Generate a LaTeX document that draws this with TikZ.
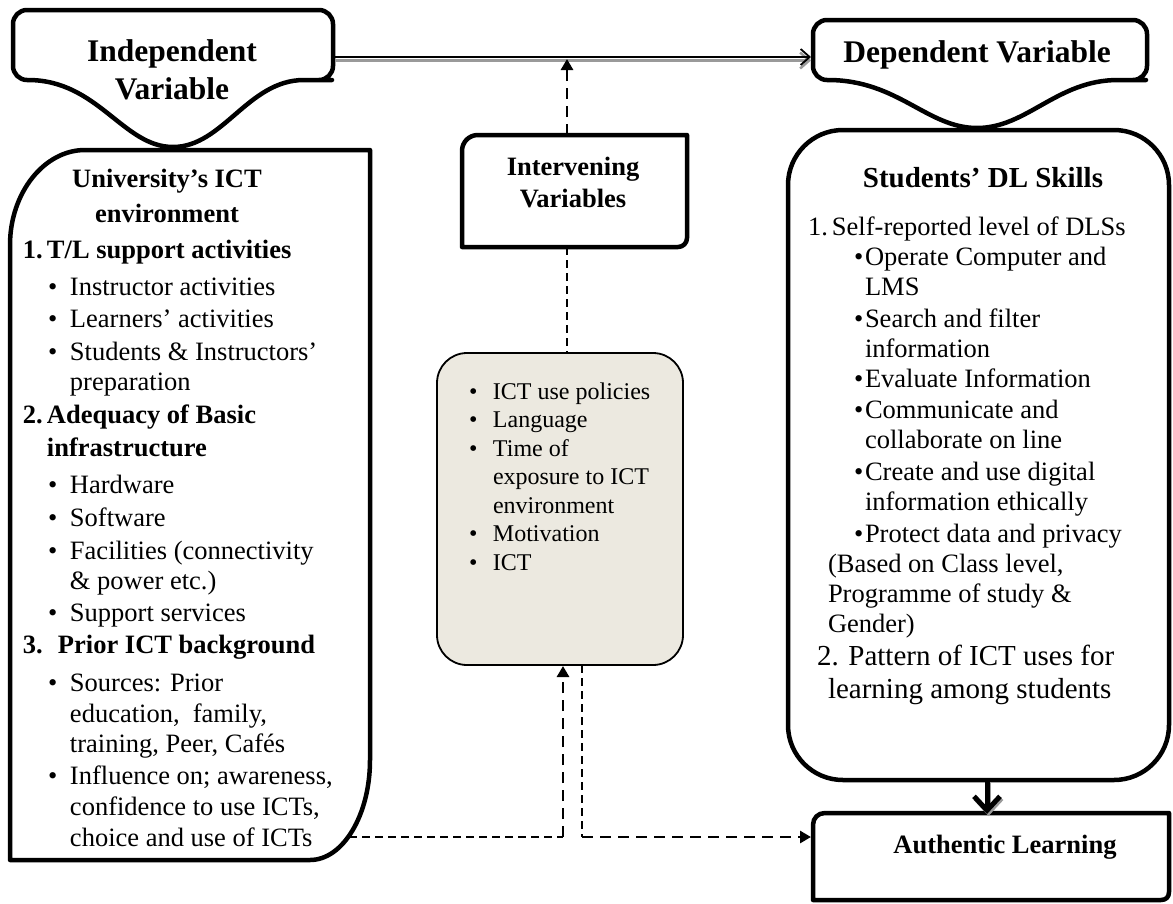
\documentclass[tikz,border=0pt]{standalone}
\usepackage{fontspec}
\setmainfont{Liberation Serif}
\usetikzlibrary{arrows.meta}

\definecolor{ceceae0}{RGB}{236,233,224}
\definecolor{c9a9a9a}{RGB}{154,154,154}

\newcommand{\numbox}[1]{\makebox[24pt][l]{#1}}
\newcommand{\bul}{\hspace*{25pt}\makebox[22pt][l]{\textbullet}}
\newcommand{\pbul}{\makebox[24pt][l]{\textbullet}}
\newcommand{\sbul}{\hspace*{46pt}\makebox[11pt][l]{\textbullet}}

\begin{document}
\begin{tikzpicture}[x=1pt, y=-1pt, inner sep=0pt, outer sep=0pt,
  boxline/.style={draw=black, line width=4.5pt, line join=round},
  bodytext/.style={align=left, font=\fontsize{26.5}{30}\selectfont},
  headtext/.style={align=center, font=\bfseries\fontsize{26.5}{32}\selectfont},
  thindash/.style={line width=1.8pt, dash pattern=on 8pt off 5pt},
  thickdash/.style={line width=2.8pt, dash pattern=on 11pt off 7pt},
  tri/.style={-{Triangle[length=11pt,width=12pt]}}]
  \useasboundingbox[fill=white] (0,0) rectangle (1173,903);

  % banners
  \path[boxline, fill=white, rounded corners=14pt] (28,80) -- (13,80) -- (13,10) -- (333,10) -- (333,80) -- (318,80)
    [sharp corners] .. controls (248,80) and (223,147) .. (173,147) .. controls (123,147) and (98,80) .. (28,80) -- cycle;
  \path[boxline, fill=white, rounded corners=14pt] (828,80) -- (813,80) -- (813,20) -- (1147,20) -- (1147,80) -- (1132,80)
    [sharp corners] .. controls (1057,80) and (1027,128) .. (977,128) .. controls (927,128) and (898,80) .. (828,80) -- cycle;

  % boxes
  \path[boxline] (85,150) -- (370,150) -- (370,760) .. controls (370,815) and (343,860) .. (310,860)
    -- (10,860) -- (10,245) .. controls (10,193) and (44,150) .. (85,150) -- cycle;
  \path[boxline] (462,247) -- (462,151) .. controls (462,142) and (469,135) .. (478,135) -- (687,135)
    -- (687,238) .. controls (687,243) and (683,247) .. (678,247) -- cycle;
  \path[draw=black, fill=ceceae0, line width=1.8pt, rounded corners=30pt] (437,353) rectangle (683,665);
  \path[boxline, rounded corners=55pt] (788,130) rectangle (1169,780);
  \path[boxline] (813,900) -- (813,825) .. controls (813,818) and (818,813) .. (825,813) -- (1169,813)
    -- (1169,892) .. controls (1169,897) and (1166,900) .. (1161,900) -- cycle;

  % texts
  \node[headtext, font=\bfseries\fontsize{31.5}{38}\selectfont, anchor=north] (ivText) at (172,40) {Independent\\Variable};
  \node[headtext, font=\bfseries\fontsize{31.5}{38}\selectfont, anchor=north] (dvText) at (977,41) {Dependent Variable};
  \node[headtext, anchor=north] (intText) at (573,157) {Intervening\\Variables};
  \node[headtext, font=\bfseries\fontsize{26.5}{35}\selectfont, anchor=north] (uniHead) at (167,169) {University’s ICT\\environment};

  \node[bodytext, font=\fontsize{26.5}{30.5}\selectfont, anchor=north west] (leftList) at (23,240) {%
    \textbf{\numbox{1.}T/L support activities}\\[6.5pt]
    \bul Instructor activities\\[1.5pt]
    \bul Learners’ activities\\[2.5pt]
    \bul Students \& Instructors’\\
    \hspace*{47pt}preparation\\[2pt]
    \textbf{\numbox{2.}Adequacy of Basic}\\[2.5pt]
    \textbf{\hspace*{24pt}infrastructure}\\[6.5pt]
    \bul Hardware\\[2.5pt]
    \bul Software\\[2.5pt]
    \bul Facilities (connectivity\\
    \hspace*{47pt}\& power etc.)\\[1.5pt]
    \bul Support services\\[1.5pt]
    \textbf{\makebox[35pt][l]{3.}Prior ICT background}\\[7.5pt]
    \bul Sources: Prior\\
    \hspace*{47pt}education,\ \ family,\\
    \hspace*{47pt}training, Peer, Cafés\\[1.5pt]
    \bul Influence on; awareness,\\[0.5pt]
    \hspace*{47pt}confidence to use ICTs,\\
    \hspace*{47pt}choice and use of ICTs};

  \node[bodytext, font=\fontsize{24}{28.5}\selectfont, anchor=north west] (polList) at (469,382.5) {%
    \pbul ICT use policies\\
    \pbul Language\\
    \pbul Time of\\
    \hspace*{24pt}exposure to ICT\\
    \hspace*{24pt}environment\\
    \pbul Motivation\\
    \pbul ICT};

  \node[headtext, font=\bfseries\fontsize{29}{33}\selectfont, anchor=north] (skillHead) at (983,167) {Students’ DL Skills};
  \node[bodytext, anchor=north west] (skillList) at (808,217) {%
    \numbox{1.}Self-reported level of DLSs\\
    \sbul Operate Computer and\\
    \hspace*{57pt}LMS\\[2pt]
    \sbul Search and filter\\
    \hspace*{57pt}information\\
    \sbul Evaluate Information\\[1pt]
    \sbul Communicate and\\
    \hspace*{57pt}collaborate on line\\[2pt]
    \sbul Create and use digital\\
    \hspace*{57pt}information ethically\\[2pt]
    \sbul Protect data and privacy\\
    \hspace*{20pt}(Based on Class level,\\
    \hspace*{20pt}Programme of study \&\\
    \hspace*{20pt}Gender)};
  \node[bodytext, font=\fontsize{29}{33}\selectfont, anchor=north west] (patternText) at (817,645) {%
    2. Pattern of ICT uses for\\
    \hspace*{11pt}learning among students};

  \node[headtext, anchor=north] (alText) at (1005,835) {Authentic Learning};

  % connectors
  \coordinate (ivEast) at (335,57);
  \coordinate (dvWest) at (811,57);
  \coordinate (intTop) at (567,135);
  \coordinate (ivdvHit) at (567,59);
  \coordinate (intBot) at (567,247);
  \coordinate (polTop) at (567,353);
  \coordinate (leftTail) at (349,837);
  \coordinate (joinA) at (563,837);
  \coordinate (polBotA) at (563,666);
  \coordinate (polBotB) at (582,665);
  \coordinate (joinB) at (582,837);
  \coordinate (alWest) at (811,837);
  \coordinate (skillBot) at (987,780);
  \coordinate (alTop) at (987,814);

  \draw[c9a9a9a, line width=2.5pt, -{Straight Barb[length=9pt,width=16pt]}, transform canvas={yshift=-3.5pt}] (ivEast) -- (dvWest);
  \draw[line width=1.8pt, -{Straight Barb[length=9pt,width=16pt]}] (ivEast) -- (dvWest);

  \draw[thickdash, tri] (intTop) -- (ivdvHit);
  \draw[thindash] (intBot) -- (polTop);

  \draw[thindash] (leftTail) -- (joinA);
  \draw[thickdash, tri] (joinA) -- (polBotA);
  \draw[thindash] (polBotB) -- (joinB);
  \draw[thickdash, tri] (joinB) -- (alWest);

  \draw[c9a9a9a, line width=5pt, -{Straight Barb[length=14pt,width=26pt]}, transform canvas={xshift=1.5pt, yshift=-2pt}] (skillBot) -- (alTop);
  \draw[line width=5pt, -{Straight Barb[length=14pt,width=26pt]}] (skillBot) -- (alTop);
\end{tikzpicture}
\end{document}
